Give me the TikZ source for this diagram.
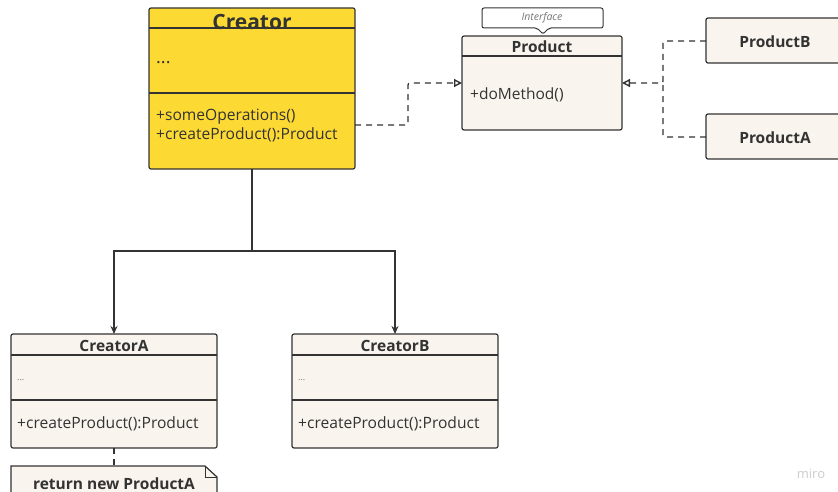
\documentclass[tikz,border=0pt]{standalone}
\usepackage{fontspec}
\setmainfont{Open Sans}
\usetikzlibrary{arrows.meta,shapes.misc}
\definecolor{ink}{HTML}{333333}
\definecolor{paper}{HTML}{F9F5EE}
\definecolor{gold}{HTML}{FDDA33}
\definecolor{faint}{HTML}{777777}
\tikzset{
  umlbox/.style={draw=ink,line width=1.2pt,fill=paper,rounded corners=2pt},
  sepline/.style={draw=ink,line width=1.1pt},
  ttl/.style={font=\fontsize{15.5}{18}\selectfont\bfseries,text=ink},
  member/.style={font=\fontsize{15.6}{18}\selectfont,text=ink,anchor=west,inner sep=0pt},
  dots/.style={font=\fontsize{9}{11}\selectfont,text=faint,anchor=west,inner sep=0pt},
  realize/.style={draw=ink,line width=1.3pt,dash pattern=on 6pt off 5pt,rounded corners=2pt,
    -{Triangle[open,length=8pt,width=8pt,line width=1.4pt]}},
  plainlink/.style={draw=ink,line width=1.3pt,dash pattern=on 6pt off 5pt,rounded corners=2pt},
  inherit/.style={draw=ink,line width=1.5pt,-{Stealth[length=8pt,width=7pt]}},
}
\begin{document}
\begin{tikzpicture}[x=1pt,y=-1pt]
\useasboundingbox (0,0) rectangle (838,492);

% Creator (abstract creator)
\draw[umlbox,fill=gold] (149,8) rectangle (355,169);
\draw[sepline] (149,28) -- (355,28);
\draw[sepline] (149,93) -- (355,93);
\node[font=\fontsize{21}{24}\selectfont\bfseries,text=ink] (creatorT) at (252,22) {Creator};
\node[member,font=\fontsize{18}{20}\selectfont] (creatorD) at (156,63) {...};
\node[member] (creatorM1) at (156,117) {+someOperations()};
\node[member] (creatorM2) at (156,135) {+createProduct():Product};
\coordinate (creatorR) at (355,125);
\coordinate (creatorB) at (252,169);

% Product interface
\draw[umlbox] (462,36) rectangle (622,130);
\draw[sepline] (462,56) -- (622,56);
\node[ttl] (productT) at (542,47) {Product};
\node[member,font=\fontsize{15.5}{18}\selectfont] (productM) at (470,95) {+doMethod()};
\coordinate (productL) at (462,83);
\coordinate (productR) at (622,83);

% stereotype callout
\draw[draw=ink,line width=1pt,fill=white,rounded corners=2pt]
  (482,8) -- (603,8) -- (603,28) -- (549,28) -- (543,34) -- (537,28) -- (482,28) -- cycle;
\node[font=\fontsize{10.5}{12}\selectfont\itshape,text=faint] (iface) at (542,18) {Interface};

% concrete products
\draw[umlbox] (706,18) rectangle (845,63);
\node[ttl] (prodB) at (775,42) {ProductB};
\draw[umlbox] (706,114) rectangle (845,159);
\node[ttl] (prodA) at (775,138) {ProductA};
\coordinate (prodBL) at (706,41);
\coordinate (prodAL) at (706,137);

% concrete creators
\draw[umlbox] (11,334) rectangle (217,448);
\draw[sepline] (11,355) -- (217,355);
\draw[sepline] (11,400) -- (217,400);
\node[ttl] (creatorAT) at (114,346) {CreatorA};
\node[dots] (creatorAD) at (17,380) {...};
\node[member] (creatorAM) at (17,424) {+createProduct():Product};
\coordinate (creatorAtop) at (114,334);
\coordinate (creatorAbot) at (114,448);

\draw[umlbox] (292,334) rectangle (498,448);
\draw[sepline] (292,355) -- (498,355);
\draw[sepline] (292,400) -- (498,400);
\node[ttl] (creatorBT) at (395,346) {CreatorB};
\node[dots] (creatorBD) at (298,380) {...};
\node[member] (creatorBM) at (298,424) {+createProduct():Product};
\coordinate (creatorBtop) at (395,334);

% note
\draw[draw=ink,line width=1.2pt,fill=paper] (11,500) -- (11,466) -- (205,466) -- (217,477) -- (217,500);
\draw[draw=ink,line width=1pt] (205,466) -- (205,477) -- (217,477);
\node[ttl] (note) at (114,484) {return new ProductA};
\coordinate (notetop) at (114,466);

% relations
\draw[realize] (creatorR) -- (408,125) -- (408,83) -- (productL);
\draw[realize] (prodBL) -- (663,41) -- (663,83) -- (productR);
\draw[plainlink] (prodAL) -- (663,137) -- (663,83);
\draw[plainlink] (creatorAbot) -- (notetop);
\draw[draw=ink,line width=1.5pt] (creatorB) -- (252,251);
\draw[inherit] (252,251) -- (114,251) -- (creatorAtop);
\draw[inherit] (252,251) -- (395,251) -- (creatorBtop);

% watermark
\node[font=\fontsize{13}{15}\selectfont,text=black!20] (mark) at (811,474) {miro};
\end{tikzpicture}
\end{document}
